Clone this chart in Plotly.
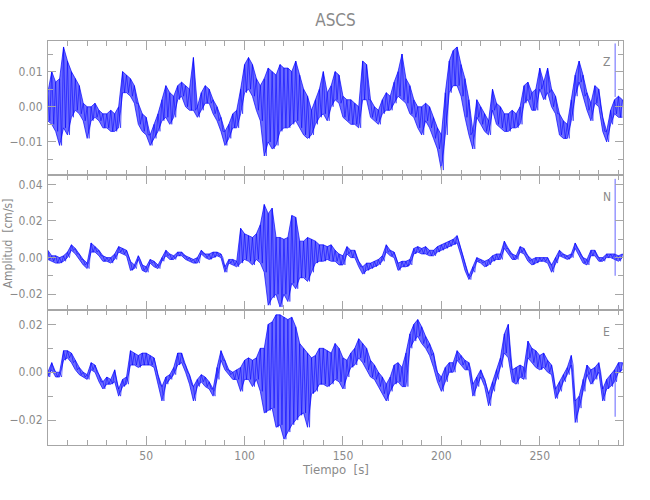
import plotly.graph_objects as go

# ---- data, amplitudes in units of 0.001 cm/s ----
times = list(range(0, 293, 2))  # seconds, sample knots (2 s)

z_hi = [4, 10, 7, 8, 17, 13, 10, 8, 6, 1,
        0, 0, 1, -1, -2, -2, -1, -2, 0, 10,
        9, 8, 6, 1, -2, -3, -8, -5, -2, 2,
        6, 4, 3, 6, 7, 6, 5, 14, 0, 4,
        6, 5, 2, 0, -3, -7, -5, -2, -1, 5,
        12, 14, 12, 8, 6, 8, 11, 10, 9, 12,
        11, 11, 10, 13, 9, 5, 3, -1, 2, 5,
        10, 4, 6, 10, 9, 3, 2, 2, 1, 0,
        13, 12, 2, 0, -1, 2, 4, 3, 7, 10,
        15, 8, 6, 2, 0, 0, 1, 0, -3, -6,
        -8, 4, 13, 16, 17, 12, 8, 2, -7, 2,
        0, -2, -4, 5, 1, 0, -2, -2, -1, -2,
        0, 6, 7, 4, 5, 11, 7, 11, 5, 3,
        -2, -4, -5, 2, 9, 13, 9, 4, 1, 6,
        5, -3, -7, -1, 2, 3, 2]
z_lo = [-4, -5, -7, -11, -6, -8, -3, -1, -2, -4,
        -9, -4, -3, -4, -6, -6, -7, -7, -6, 4,
        4, 3, 1, -5, -7, -8, -11, -9, -7, -4,
        -3, -5, -3, 2, 3, 0, -1, -1, -3, -1,
        1, 1, -2, -4, -7, -11, -9, -6, -6, -2,
        4, 5, 3, -1, -4, -14, -10, -12, -11, -7,
        -6, -6, -5, -4, -6, -8, -9, -8, -5, -3,
        -2, -4, 0, 2, 1, -3, -4, -5, -5, -6,
        2, 2, -3, -4, -5, -2, -1, -1, 1, 3,
        2, 1, -2, -3, -6, -8, -4, -6, -9, -12,
        -18, -8, 4, 6, 6, 3, -3, -8, -12, -3,
        -5, -7, -8, -1, -5, -6, -7, -7, -6, -6,
        -5, 1, 2, -1, -1, 5, 2, 4, 0, -2,
        -8, -9, -9, -4, 3, 7, 3, -1, -4, 1,
        0, -7, -10, -5, -2, -3, -3]

n_hi = [4, 1, 1, 0, 1, 3, 7, 5, 2, -1,
        -3, 8, 6, 4, 1, 0, 0, 2, 6, 5,
        4, -2, -4, 1, -4, -5, -1, -2, -4, 0,
        4, 2, 1, 3, 3, 1, 0, -1, 0, 4,
        2, 2, 3, 3, 2, -5, -1, -1, -2, 16,
        13, 12, 11, 13, 18, 29, 24, 27, 11, 11,
        10, 11, 23, 22, 9, 9, 11, 10, 9, 7,
        7, 6, 7, 4, 2, 1, 6, 4, 4, -2,
        -5, -3, -3, -2, -1, 1, 7, 4, 3, -3,
        -2, -2, -1, 5, 6, 5, 6, 4, 4, 6,
        7, 8, 9, 10, 12, 5, -3, -10, -5, 0,
        -1, -2, -1, 1, 2, 2, 9, 5, 2, 1,
        6, 5, 1, -1, 0, 0, 0, 0, -4, 0,
        4, 2, 1, 2, 8, 4, 0, -1, 4, 4,
        0, 0, 2, 2, 2, 1, 2]
n_lo = [-1, -2, -3, -3, -2, 0, 4, 2, -1, -4,
        -6, 3, 3, 1, -2, -2, -3, -1, 3, 2,
        1, -7, -6, -1, -7, -8, -3, -5, -6, -2,
        1, -1, -1, 1, 1, -1, -2, -3, -3, 2,
        0, -1, 0, 1, 0, -8, -3, -4, -5, -3,
        -1, -2, -4, -1, -3, -8, -26, -22, -20, -27,
        -20, -24, -14, -17, -11, -11, -13, -8, -3, -2,
        -2, -1, -2, -2, -4, -4, 2, 0, 0, -5,
        -9, -7, -6, -5, -4, -2, 3, 1, 0, -7,
        -5, -5, -4, 2, 3, 2, 2, 1, 1, 3,
        4, 5, 6, 7, 8, 1, -7, -12, -8, -2,
        -3, -5, -4, -2, -1, -1, 5, 2, -1, -1,
        3, 2, -2, -4, -3, -2, -2, -3, -8, -3,
        1, 0, -1, 0, 5, 1, -3, -4, 1, 1,
        -2, -2, 0, 0, -1, -2, 0]

e_hi = [0, 4, 0, 0, 9, 9, 8, 5, 2, 0,
        -1, 4, 3, -1, -4, -2, -3, 1, -7, -3,
        -2, 9, 8, 7, 8, 8, 7, 6, -1, -6,
        -2, -1, 2, 8, 8, 3, -1, -6, -3, -1,
        -2, -4, -7, 2, 9, 5, 1, 0, 1, 2,
        5, 6, 5, 6, 10, 10, 20, 21, 24, 24,
        23, 22, 23, 19, 12, 10, 8, 6, 7, 10,
        10, 9, 8, 12, 10, 6, 5, 8, 10, 14,
        12, 10, 5, 3, 0, -2, -5, -2, 3, 4,
        2, 8, 16, 20, 22, 19, 15, 12, 8, 0,
        -2, 2, 4, 4, 9, 7, 5, 4, -5, -2,
        1, -3, -9, -4, 1, 6, 16, 20, 1, 2,
        3, 2, 13, 10, 9, 7, 8, 5, 3, -7,
        -4, -1, 2, 7, -12, -10, -3, 3, 1, 2,
        4, -7, -3, -1, 1, 4, 4]
e_lo = [-2, 1, -2, -2, 5, 6, 4, 1, -1, -2,
        -3, 1, 0, -4, -7, -5, -5, -4, -10, -6,
        -5, 3, 3, 2, 3, 3, 3, 2, -5, -12,
        -5, -3, -1, 3, 4, 0, -5, -12, -6, -4,
        -6, -7, -10, -3, 5, 1, -1, -3, -3, -8,
        -3, -3, -6, -3, -8, -17, -16, -15, -23, -22,
        -28, -25, -22, -20, -18, -17, -23, -9, -8, -5,
        -5, -6, -5, -3, -4, -7, -2, 2, 3, 6,
        4, 1, -2, -3, -6, -9, -12, -8, -5, -4,
        -6, -6, 10, 13, 15, 12, 10, 7, 2, -4,
        -8, -4, 0, 0, 5, 3, 1, 1, -10, -6,
        -2, -6, -14, -8, -3, 2, 8, 6, -4, -5,
        -2, -3, 6, 4, 2, 1, 2, 0, -1, -11,
        -8, -4, -1, 3, -21, -15, -8, -1, -5, -3,
        0, -12, -7, -6, -4, 0, 1]

# glitch (vertical spike) near the end of each trace
spike_time = [288.3, 288.3]
z_spike = [18.0, 2.8]
n_spike = [43.0, -9.9]
e_spike = [0.3, -18.6]

components = ["Z", "N", "E"]
SCALE = 1e-3  # table units -> cm/s

GRAY = "#8a8a8a"
AXIS = "#a6a6a6"
FONT = "Liberation Sans Narrow, DejaVu Sans Condensed, Liberation Sans, sans-serif"


def zigzag(hi, lo):
    xs, ys = [], []
    for t, h, l in zip(times, hi, lo):
        xs += [t, t + 1]
        ys += [h * SCALE, l * SCALE]
    return xs, ys


fig = go.Figure()
series = [(z_hi, z_lo, z_spike), (n_hi, n_lo, n_spike), (e_hi, e_lo, e_spike)]
for i, (hi, lo, sp) in enumerate(series):
    ax = "" if i == 0 else str(i + 1)
    kw = dict(xaxis="x" + ax, yaxis="y" + ax, showlegend=False, hoverinfo="skip")
    # envelope band
    fig.add_trace(go.Scatter(x=times, y=[v * SCALE for v in lo], mode="lines",
                             line=dict(color="rgba(0,0,255,0.75)", width=0.9), **kw))
    fig.add_trace(go.Scatter(x=times, y=[v * SCALE for v in hi], mode="lines",
                             line=dict(color="rgba(0,0,255,0.75)", width=0.9),
                             fill="tonexty", fillcolor="rgba(0,0,255,0.58)", **kw))
    # the trace itself
    xs, ys = zigzag(hi, lo)
    fig.add_trace(go.Scatter(x=xs, y=ys, mode="lines",
                             line=dict(color="rgba(0,0,255,0.9)", width=0.6), **kw))
    fig.add_trace(go.Scatter(x=spike_time, y=[v * SCALE for v in sp], mode="lines",
                             line=dict(color="rgba(60,60,255,0.8)", width=1), **kw))

W, HT = 650, 500
H = 404.0
dom_bottom = [0, 135 / H]
dom_middle = [135 / H, 270 / H]
dom_top = [270 / H, 1]

xcommon = dict(range=[0.1, 292.3], showline=True, linecolor=AXIS, linewidth=1,
               mirror="ticks", ticks="inside", ticklen=9, tickcolor=AXIS, tickwidth=1,
               tick0=0, dtick=50, showgrid=False, zeroline=False, automargin=False,
               minor=dict(ticks="inside", ticklen=5, tickcolor=AXIS, dtick=10, tick0=0, showgrid=False),
               tickfont=dict(family=FONT, size=12, color=GRAY))
ycommon = dict(showline=True, linecolor=AXIS, linewidth=1, mirror="ticks",
               ticks="inside", ticklen=8, tickcolor=AXIS, tickwidth=1, automargin=False,
               showgrid=False, zeroline=False, tickformat=".2f",
               tickfont=dict(family=FONT, size=12, color=GRAY), ticklabelstandoff=2)

fig.update_layout(
    width=W, height=HT,
    margin=dict(l=48, r=27, t=41, b=55),
    paper_bgcolor="white", plot_bgcolor="white",
    title=dict(text="ASCS", x=335.5 / W, xanchor="center", y=1 - 20 / HT, yanchor="middle",
               font=dict(family=FONT, size=17, color=GRAY)),
    xaxis=dict(xcommon, anchor="y", showticklabels=False),
    xaxis2=dict(xcommon, anchor="y2", matches="x", showticklabels=False),
    xaxis3=dict(xcommon, anchor="y3", matches="x", showticklabels=True),
    yaxis=dict(ycommon, domain=dom_top, anchor="x", range=[-0.0194, 0.0187], tick0=0, dtick=0.01,
               minor=dict(ticks="inside", ticklen=5, tickcolor=AXIS, dtick=0.005, tick0=0)),
    yaxis2=dict(ycommon, domain=dom_middle, anchor="x2", range=[-0.0286, 0.0451], tick0=0, dtick=0.02,
                minor=dict(ticks="inside", ticklen=5, tickcolor=AXIS, dtick=0.01, tick0=0)),
    yaxis3=dict(ycommon, domain=dom_bottom, anchor="x3", range=[-0.0304, 0.026], tick0=0, dtick=0.02,
                minor=dict(ticks="inside", ticklen=5, tickcolor=AXIS, dtick=0.01, tick0=0)),
)

annots = []
for comp, ydom in zip(components, [dom_top, dom_middle, dom_bottom]):
    annots.append(dict(text=comp, xref="paper", yref="paper", x=0.972,
                       y=ydom[0] + 0.84 * (ydom[1] - ydom[0]), showarrow=False,
                       xanchor="center", yanchor="middle",
                       font=dict(family=FONT, size=12, color=GRAY)))
annots.append(dict(text="Amplitud  [cm/s]", xref="paper", yref="paper", x=-0.069, y=0.5,
                   textangle=-90, showarrow=False, xanchor="center", yanchor="middle",
                   font=dict(family=FONT, size=12, color=GRAY)))
annots.append(dict(text="Tiempo  [s]", xref="paper", yref="paper", x=0.5, y=-0.06,
                   showarrow=False, xanchor="center", yanchor="middle",
                   font=dict(family=FONT, size=13, color=GRAY)))
fig.update_layout(annotations=annots)

# remove the default page margin so the figure sits at the window's top-left corner
fig.write_html("out.html", config={"displayModeBar": False, "staticPlot": True},
               post_script="document.body.style.margin='0px';")
